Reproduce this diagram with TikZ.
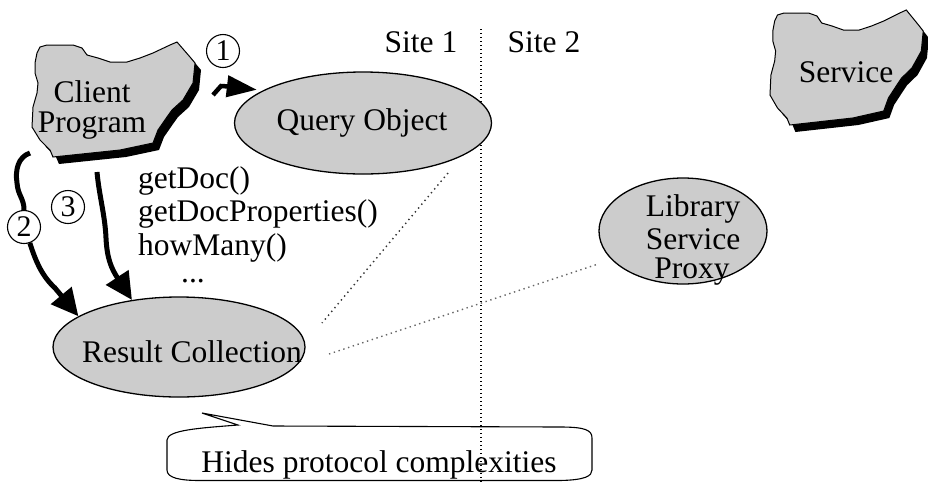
\documentclass[tikz,border=0pt]{standalone}
\usepackage{fontspec}
\setmainfont{Liberation Serif}
\usetikzlibrary{arrows.meta,shapes.geometric}
\definecolor{blobgray}{HTML}{CCCCCC}
\tikzset{
  lbl/.style={font=\fontsize{31.5}{33}\selectfont, inner sep=0pt},
  oval/.style={ellipse, draw, fill=blobgray, line width=1.3pt, inner sep=0pt},
  numcirc/.style={circle, draw, fill=white, line width=1.1pt, minimum size=33pt,
    inner sep=0pt, font=\fontsize{30}{30}\selectfont},
  flow/.style={line width=5pt, -{Triangle[length=27pt,width=26pt]}},
  flowplain/.style={line width=5pt},
  sitesep/.style={line width=1.2pt, dash pattern=on 1.2pt off 2.8pt},
  assoc/.style={line width=1.4pt, dash pattern=on 1.4pt off 3.6pt},
  callout/.style={line width=1.1pt},
  cloud/.pic={
    \fill[black, shift={(6,7)}]
      (40,47) -- (47,45) -- (73,45) -- (82,48) -- (87,55) -- (98,58) -- (110,62)
      -- (127,62) -- (140,58) -- (153,53) -- (170,45) -- (177,42) -- (190,57)
      -- (195,63) -- (193,83) -- (183,100) -- (172,110) -- (167,117) -- (158,130)
      -- (153,143) -- (120,150) -- (53,157) -- (50,150) -- (40,140) -- (32,127)
      -- (33,107) -- (37,93) -- (38,83) -- (35,73) -- (35,63) -- (37,53) -- cycle;
    \filldraw[fill=blobgray, draw=black, line width=1pt]
      (40,47) -- (47,45) -- (73,45) -- (82,48) -- (87,55) -- (98,58) -- (110,62)
      -- (127,62) -- (140,58) -- (153,53) -- (170,45) -- (177,42) -- (190,57)
      -- (195,63) -- (193,83) -- (183,100) -- (172,110) -- (167,117) -- (158,130)
      -- (153,143) -- (120,150) -- (53,157) -- (50,150) -- (40,140) -- (32,127)
      -- (33,107) -- (37,93) -- (38,83) -- (35,73) -- (35,63) -- (37,53) -- cycle;
  }
}
\begin{document}
\begin{tikzpicture}[x=1pt, y=-1pt]
\useasboundingbox (0,0) rectangle (928,483);

% the two irregular blobs with drop shadows
\pic at (0,0) {cloud};
\pic[xscale=0.94] at (739.9,-32) {cloud};
\node[lbl, anchor=base] (client) at (92,102) {Client};
\node[lbl, anchor=base] (clientp) at (92,132) {Program};
\node[lbl, anchor=base] (service) at (846,82) {Service};

% site boundary
\coordinate (septop) at (481,29);
\coordinate (sepbot) at (481,483);
\node[lbl, anchor=base] (site1) at (421,52) {Site 1};
\node[lbl, anchor=base] (site2) at (544,52) {Site 2};

% callout bubble
\draw[callout] (273,426) -- (202,413) -- (238,425)
  .. controls (200,428) and (167,430) .. (167,440) -- (167,470)
  .. controls (167,478) and (180,480.5) .. (200,480.5) -- (560,480.5)
  .. controls (585,480) and (592,476) .. (592,470) -- (592,438)
  .. controls (592,430) and (585,427) .. (560,427) -- cycle;
\node[lbl, anchor=base] (note) at (379,472) {Hides protocol complexities};

\draw[sitesep] (septop) -- (sepbot);

% objects
\node[oval, minimum width=257pt, minimum height=102pt] (qo) at (363,123) {};
\node[lbl, anchor=base] (qot) at (362,130) {Query Object};
\node[oval, minimum width=252pt, minimum height=100pt] (rc) at (179,347) {};
\node[lbl, anchor=base] (rct) at (192,362) {Result Collection};
\node[oval, minimum width=168pt, minimum height=106pt] (lsp) at (683,231) {};
\node[lbl, anchor=base] (lsp1) at (693,216) {Library};
\node[lbl, anchor=base] (lsp2) at (693,249) {Service};
\node[lbl, anchor=base] (lsp3) at (692,278) {Proxy};

% method list
\node[lbl, anchor=base west] (m1) at (138,188) {getDoc()};
\node[lbl, anchor=base west] (m2) at (138,221.5) {getDocProperties()};
\node[lbl, anchor=base west] (m3) at (138,255) {howMany()};
\node[lbl, anchor=base, text height=5pt] (m4) at (193,282) {...};

% associations across sites
\coordinate (qa) at (448,173);
\coordinate (ra) at (322,323);
\coordinate (rb) at (329,354);
\coordinate (la) at (598,264);
\draw[assoc, black!80] (qa) -- (ra);
\draw[assoc, black!60] (rb) -- (la);

% numbered steps
\node[numcirc] (n1) at (223,51) {1};
\node[numcirc] (n2) at (24,227) {2};
\node[numcirc] (n3) at (68,207) {3};

\coordinate (a1) at (213,95);
\coordinate (a2) at (30,153);
\coordinate (a3) at (97,172);

\draw[line width=4.5pt, -{Triangle[length=30pt,width=21pt]}, shorten >=6pt]
  (a1) -- (221,86) -- (229,86.5) -- (qo.162);
\draw[flowplain] (a2) .. controls (18,157) and (15,170) .. (17,183)
  .. controls (18,196) and (24,198) .. (n2.north);
\draw[flow] (n2.-70) .. controls (36,262) and (42,276) .. (55,288) -- (rc.163);
\draw[flow] (a3) .. controls (99,195) and (105,215) .. (106,238)
  .. controls (107,258) and (111,268) .. (rc.135);
\end{tikzpicture}
\end{document}
